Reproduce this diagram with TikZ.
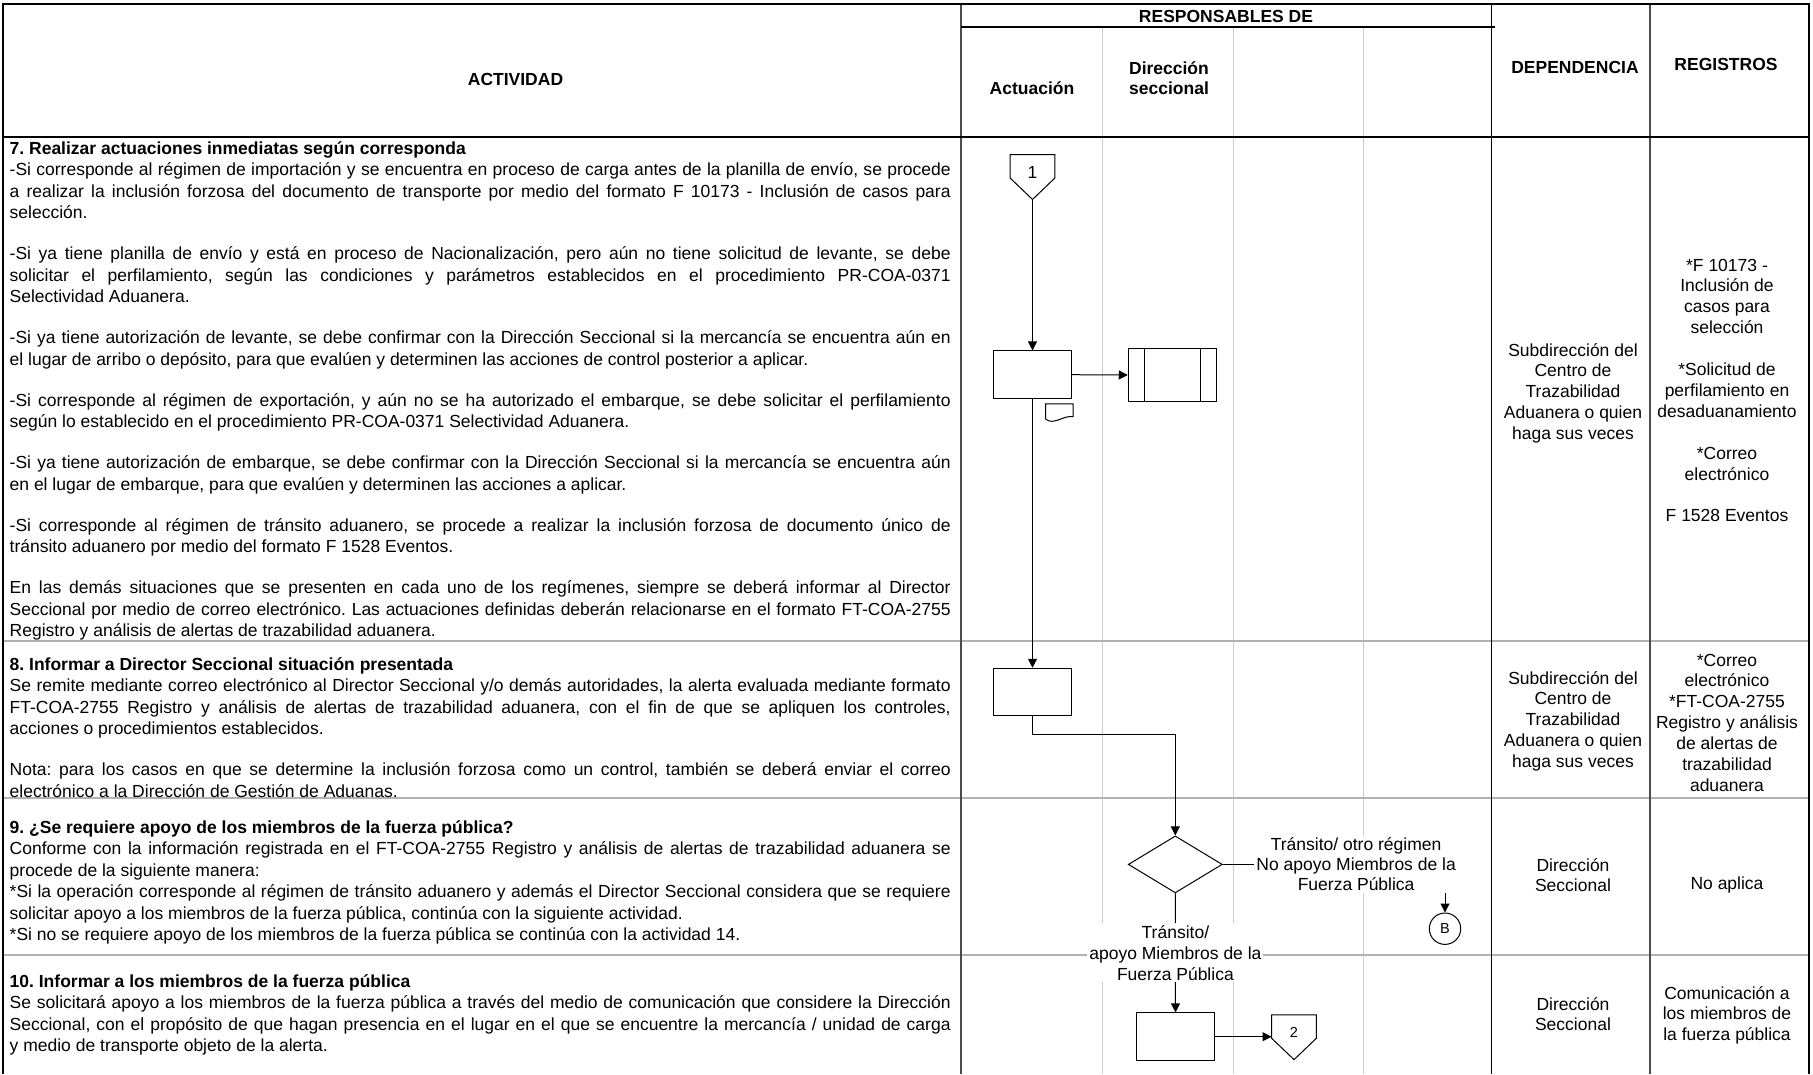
\documentclass[tikz,border=0pt]{standalone}
\usepackage{fontspec}
\setmainfont{Liberation Sans}
\usepackage{tikz}
\usetikzlibrary{arrows.meta}
\usetikzlibrary{calc}
\usetikzlibrary{positioning}
\usetikzlibrary{shapes.geometric}
\frenchspacing

\newcommand{\txtfont}{\fontsize{17.5}{21.5}\selectfont}
\newcommand{\celfont}{\fontsize{17.5}{20.9}\selectfont}
% columna ACTIVIDAD: lineas justificadas, cortes como en el formato
\newcommand{\actividad}[1]{%
  \begin{minipage}[t]{941pt}\txtfont\hyphenpenalty=10000\tolerance=10000 #1\end{minipage}}
\newcommand{\celda}[1]{%
  \begin{minipage}[t]{154pt}\centering\celfont #1\end{minipage}}
\newcommand{\finpar}{\\[19.5pt]}
\newcommand{\blanco}{\\[20.9pt]}

\tikzset{
  marco/.style={line width=1.3pt},
  colline/.style={line width=1.2pt, black!70},
  lane/.style={line width=1pt, black!20},
  rowline/.style={line width=1.2pt, black!30},
  txt/.style={anchor=base west, inner sep=0pt},
  cell/.style={anchor=base, inner sep=0pt},
  head/.style={anchor=base, inner sep=0pt, font=\fontsize{17.5}{20}\selectfont\bfseries},
  proc/.style={draw, line width=1pt, minimum width=78pt, minimum height=47.5pt, inner sep=0pt},
  predef/.style={proc, minimum width=88.5pt, minimum height=53.5pt,
    path picture={
      \draw[line width=1pt] ([xshift=16pt]path picture bounding box.north west) -- ([xshift=16pt]path picture bounding box.south west);
      \draw[line width=1pt] ([xshift=-16pt]path picture bounding box.north east) -- ([xshift=-16pt]path picture bounding box.south east);
    }},
  decision/.style={diamond, draw, line width=1pt, minimum width=94pt, minimum height=57pt, inner sep=0pt, aspect=1.65},
  offpage/.style={minimum width=44.5pt, minimum height=44.5pt, inner sep=0pt, text depth=10pt, font=\fontsize{17.5}{20}\selectfont},
  flow/.style={line width=1pt, -{Triangle[length=9pt, width=9pt]}},
  lbl/.style={fill=white, inner sep=2pt, align=center, font=\fontsize{17.5}{20}\selectfont},
}

\begin{document}
\begin{tikzpicture}[x=1pt, y=-1pt]
    \useasboundingbox (0,0) rectangle (1813,1074);

    % rejilla
    \foreach \x in {1102.5, 1233, 1363.5}
      \draw[lane] (\x,27) -- (\x,1074);
    \foreach \y in {641, 798, 955}
      \draw[rowline] (3,\y) -- (1809,\y);
    \foreach \x in {961, 1650}
      \draw[colline] (\x,4) -- (\x,1074);
    \draw[marco] (1491.5,4) -- (1491.5,1074);
    \draw[marco] (961,27) -- (1495,27);
    \draw[marco] (3,137) -- (1809,137);
    \draw[marco] (3,1074) -- (3,4) -- (1809,4) -- (1809,1074);

    % encabezado
    \node[head] (hact) at (515.5,85) {ACTIVIDAD};
    \node[head] (hresp) at (1226,22) {RESPONSABLES DE};
    \node[head] (hactu) at (1032,94) {Actuación};
    \node[head, anchor=center, align=left] (hdir) at (1169,78.5) {Dirección\\seccional};
    \node[head] (hdep) at (1575,73) {DEPENDENCIA};
    \node[head] (hreg) at (1726,70) {REGISTROS};

    % actividades
    \node[txt] (act7) at (9.5,154) {\actividad{%
      \textbf{7. Realizar actuaciones inmediatas según corresponda}\\
      -Si corresponde al régimen de importación y se encuentra en proceso de carga antes de la planilla de envío, se procede\linebreak
      a realizar la inclusión forzosa del documento de transporte por medio del formato F 10173 - Inclusión de casos para\linebreak
      selección.\finpar
      -Si ya tiene planilla de envío y está en proceso de Nacionalización, pero aún no tiene solicitud de levante, se debe\linebreak
      solicitar el perfilamiento, según las condiciones y parámetros establecidos en el procedimiento PR-COA-0371\linebreak
      Selectividad Aduanera.\finpar
      -Si ya tiene autorización de levante, se debe confirmar con la Dirección Seccional si la mercancía se encuentra aún en\linebreak
      el lugar de arribo o depósito, para que evalúen y determinen las acciones de control posterior a aplicar.\finpar
      -Si corresponde al régimen de exportación, y aún no se ha autorizado el embarque, se debe solicitar el perfilamiento\linebreak
      según lo establecido en el procedimiento PR-COA-0371 Selectividad Aduanera.\finpar
      -Si ya tiene autorización de embarque, se debe confirmar con la Dirección Seccional si la mercancía se encuentra aún\linebreak
      en el lugar de embarque, para que evalúen y determinen las acciones a aplicar.\finpar
      -Si corresponde al régimen de tránsito aduanero, se procede a realizar la inclusión forzosa de documento único de\linebreak
      tránsito aduanero por medio del formato F 1528 Eventos.\finpar
      En las demás situaciones que se presenten en cada uno de los regímenes, siempre se deberá informar al Director\linebreak
      Seccional por medio de correo electrónico. Las actuaciones definidas deberán relacionarse en el formato FT-COA-2755\linebreak
      Registro y análisis de alertas de trazabilidad aduanera.}};
    \node[txt] (act8) at (9.5,670) {\actividad{%
      \textbf{8. Informar a Director Seccional situación presentada}\\
      Se remite mediante correo electrónico al Director Seccional y/o demás autoridades, la alerta evaluada mediante formato\linebreak
      FT-COA-2755 Registro y análisis de alertas de trazabilidad aduanera, con el fin de que se apliquen los controles,\linebreak
      acciones o procedimientos establecidos.\finpar
      Nota: para los casos en que se determine la inclusión forzosa como un control, también se deberá enviar el correo\linebreak
      electrónico a la Dirección de Gestión de Aduanas.}};
    \node[txt] (act9) at (9.5,833) {\actividad{%
      \textbf{9. ¿Se requiere apoyo de los miembros de la fuerza pública?}\\
      Conforme con la información registrada en el FT-COA-2755 Registro y análisis de alertas de trazabilidad aduanera se\linebreak
      procede de la siguiente manera:\\{}%
      *Si la operación corresponde al régimen de tránsito aduanero y además el Director Seccional considera que se requiere\linebreak
      solicitar apoyo a los miembros de la fuerza pública, continúa con la siguiente actividad.\\{}%
      *Si no se requiere apoyo de los miembros de la fuerza pública se continúa con la actividad 14.}};
    \node[txt] (act10) at (9.5,987) {\actividad{%
      \textbf{10. Informar a los miembros de la fuerza pública}\\
      Se solicitará apoyo a los miembros de la fuerza pública a través del medio de comunicación que considere la Dirección\linebreak
      Seccional, con el propósito de que hagan presencia en el lugar en el que se encuentre la mercancía / unidad de carga\linebreak
      y medio de transporte objeto de la alerta.}};

    % dependencia y registros
    \node[cell] (dep7) at (1573,356) {\celda{Subdirección del\\Centro de\\Trazabilidad\\Aduanera o quien\\haga sus veces}};
    \node[cell] (reg7) at (1727,271) {\celda{*F 10173 -\\Inclusión de\\casos para\\selección\blanco
      *Solicitud de\\perfilamiento en\\desaduanamiento\blanco
      *Correo\\electrónico\blanco
      F 1528 Eventos}};
    \node[cell] (dep8) at (1573,684) {\celda{Subdirección del\\Centro de\\Trazabilidad\\Aduanera o quien\\haga sus veces}};
    \node[cell] (reg8) at (1727,666) {\celda{*Correo\\electrónico\\{}*FT-COA-2755\\Registro y análisis\\de alertas de\\trazabilidad\\aduanera}};
    \node[cell] (dep9) at (1573,871) {\celda{Dirección\\Seccional}};
    \node[cell] (reg9) at (1727,889) {\celda{No aplica}};
    \node[cell] (dep10) at (1573,1010) {\celda{Dirección\\Seccional}};
    \node[cell] (reg10) at (1727,999) {\celda{Comunicación a\\los miembros de\\la fuerza pública}};

    % diagrama
    \node[offpage] (conn1) at (1032.5,177) {1};
    \node[proc] (boxA) at (1032.5,374.7) {};
    \node[predef] (pre) at (1172.5,375) {};
    \node[proc] (boxC) at (1032.5,692) {};
    \node[decision] (dec) at (1175.3,864.4) {};
    \node[circle, draw, line width=1pt, minimum size=31.4pt, inner sep=0pt,
      font=\fontsize{14.5}{17}\selectfont] (B) at (1445,928.7) {B};
    \node[proc] (boxD) at (1175.5,1036.7) {};
    \node[offpage, font=\fontsize{14.5}{17}\selectfont] (conn2) at (1294,1037.2) {2};
    \foreach \cn in {conn1, conn2}
      \draw[line width=1pt] (\cn.north west) -- (\cn.north east) -- ([yshift=21.5pt]\cn.south east)
        -- (\cn.south) -- ([yshift=21.5pt]\cn.south west) -- cycle;

    \coordinate (docA) at ($(boxA.south east)+(-26.5,5)$);
    \draw[line width=1pt] ($(docA)+(0,15)$) -- (docA) -- ($(docA)+(27.5,0)$) -- ($(docA)+(27.5,12.7)$)
      .. controls ($(docA)+(18,11)$) and ($(docA)+(8,22)$) .. ($(docA)+(0,15)$);

    \draw[flow] (conn1.south) -- (boxA.north);
    \draw[flow] (boxA.east) -- (pre.west);
    \draw[flow] (boxA.south) -- (boxC.north);
    \draw[flow] (boxC.south) -- ++(0,18) -| (dec.north);
    \draw[flow] (dec.east) -| node[lbl, pos=0.3] (lblno) {Tránsito/ otro régimen\\No apoyo Miembros de la\\Fuerza Pública} (B.north);
    \draw[flow] (dec.south) -- node[lbl, font=\fontsize{17.5}{21}\selectfont] (lblsi) {Tránsito/\\apoyo Miembros de la\\Fuerza Pública} (boxD.north);
    \draw[flow] (boxD.east) -- (boxD.east -| conn2.west);

\end{tikzpicture}
\end{document}
